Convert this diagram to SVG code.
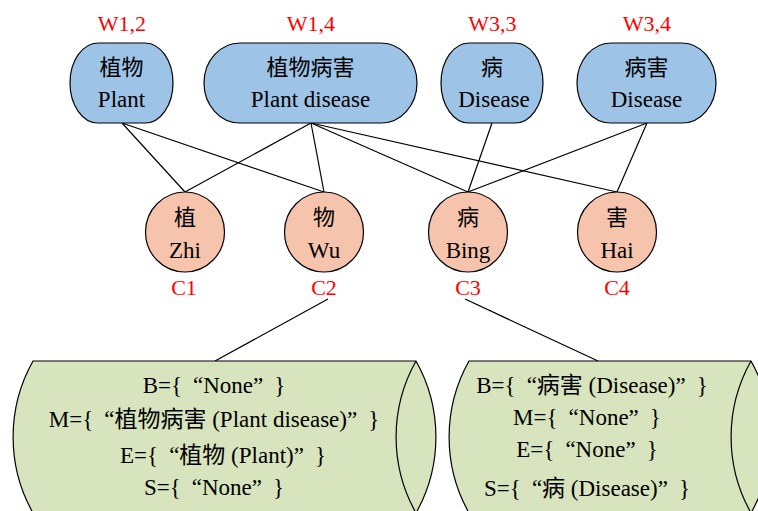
<svg xmlns="http://www.w3.org/2000/svg" width="758" height="511" viewBox="0 0 758 511">
<style>
.bg{fill:#ffffff}
.word{fill:#9DC3E6;stroke:#000;stroke-width:1.2}
.char{fill:#F6C4AD;stroke:#000;stroke-width:1.2}
.cyl{fill:#D7E4BD;stroke:#000;stroke-width:1.2}
.inner{fill:none;stroke:#000;stroke-width:1.2}
.edge{stroke:#000;stroke-width:1.2;fill:none}
text{font-family:"Liberation Serif","Noto Sans CJK SC",serif;font-size:23px;fill:#000;text-anchor:middle}
.cjk{font-family:"Noto Sans CJK SC",sans-serif;font-size:22px}
.lbl{fill:#FF0000;font-size:22px}
</style>
<rect class="bg" x="0" y="0" width="758" height="511"/>
<g id="connectors">
<line class="edge" x1="122" y1="123" x2="185" y2="192"/>
<line class="edge" x1="122" y1="123" x2="324" y2="192"/>
<line class="edge" x1="311" y1="123" x2="185" y2="192"/>
<line class="edge" x1="311" y1="123" x2="324" y2="192"/>
<line class="edge" x1="311" y1="123" x2="468" y2="192"/>
<line class="edge" x1="311" y1="123" x2="617" y2="192"/>
<line class="edge" x1="492" y1="123" x2="468" y2="192"/>
<line class="edge" x1="647" y1="123" x2="468" y2="192"/>
<line class="edge" x1="647" y1="123" x2="617" y2="192"/>
<line class="edge" x1="328" y1="299" x2="215" y2="361"/>
<line class="edge" x1="465" y1="299" x2="598" y2="361"/>
</g>
<g id="W12">
<text class="lbl" x="122" y="31">W1,2</text>
<rect class="word" x="70" y="43" width="103" height="80" rx="28" ry="40"/>
<text class="cjk" x="121.5" y="75">植物</text>
<text x="121.5" y="107">Plant</text>
</g>
<g id="W14">
<text class="lbl" x="311" y="31">W1,4</text>
<rect class="word" x="204" y="43" width="213" height="80" rx="36" ry="40"/>
<text class="cjk" x="310.5" y="75">植物病害</text>
<text x="310.5" y="107">Plant disease</text>
</g>
<g id="W33">
<text class="lbl" x="492.5" y="31">W3,3</text>
<rect class="word" x="441" y="43" width="102" height="80" rx="28" ry="40"/>
<text class="cjk" x="492" y="75">病</text>
<text x="494" y="107">Disease</text>
</g>
<g id="W34">
<text class="lbl" x="647" y="31">W3,4</text>
<rect class="word" x="577" y="43" width="139" height="80" rx="34" ry="40"/>
<text class="cjk" x="646.5" y="75">病害</text>
<text x="646.5" y="107">Disease</text>
</g>
<g id="C1">
<ellipse class="char" cx="185" cy="232" rx="39.5" ry="40"/>
<text class="cjk" x="185" y="225">植</text>
<text x="185" y="258">Zhi</text>
<text class="lbl" x="184" y="295">C1</text>
</g>
<g id="C2">
<ellipse class="char" cx="324" cy="232" rx="39.5" ry="40"/>
<text class="cjk" x="324" y="225">物</text>
<text x="324" y="258">Wu</text>
<text class="lbl" x="324" y="295">C2</text>
</g>
<g id="C3">
<ellipse class="char" cx="468" cy="232" rx="39.5" ry="40"/>
<text class="cjk" x="468" y="225">病</text>
<text x="468" y="258">Bing</text>
<text class="lbl" x="468" y="295">C3</text>
</g>
<g id="C4">
<ellipse class="char" cx="617" cy="232" rx="39.5" ry="40"/>
<text class="cjk" x="617" y="225">害</text>
<text x="617" y="258">Hai</text>
<text class="lbl" x="617" y="295">C4</text>
</g>
<g id="setC2">
<path class="cyl" d="M33,361 L416,361 A155,155 0 0 1 416,513 L33,513 A155,155 0 0 1 33,361 Z"/>
<path class="inner" d="M416,361 A155,155 0 0 0 416,513"/>
<text x="214" y="393">B={<tspan dx="11">“None”</tspan><tspan dx="11">}</tspan></text>
<text x="214" y="427">M={<tspan dx="11">“植物病害 (Plant disease)”</tspan><tspan dx="11">}</tspan></text>
<text x="223" y="463">E={<tspan dx="11">“植物 (Plant)”</tspan><tspan dx="11">}</tspan></text>
<text x="214" y="495">S={<tspan dx="11">“None”</tspan><tspan dx="11">}</tspan></text>
</g>
<g id="setC3">
<path class="cyl" d="M469,361 L751,361 A155,155 0 0 1 751,513 L469,513 A155,155 0 0 1 469,361 Z"/>
<path class="inner" d="M751,361 A155,155 0 0 0 751,513"/>
<text x="592" y="393">B={<tspan dx="11">“病害 (Disease)”</tspan><tspan dx="11">}</tspan></text>
<text x="587" y="425">M={<tspan dx="11">“None”</tspan><tspan dx="11">}</tspan></text>
<text x="587" y="457">E={<tspan dx="11">“None”</tspan><tspan dx="11">}</tspan></text>
<text x="587" y="496">S={<tspan dx="11">“病 (Disease)”</tspan><tspan dx="11">}</tspan></text>
</g>
</svg>
